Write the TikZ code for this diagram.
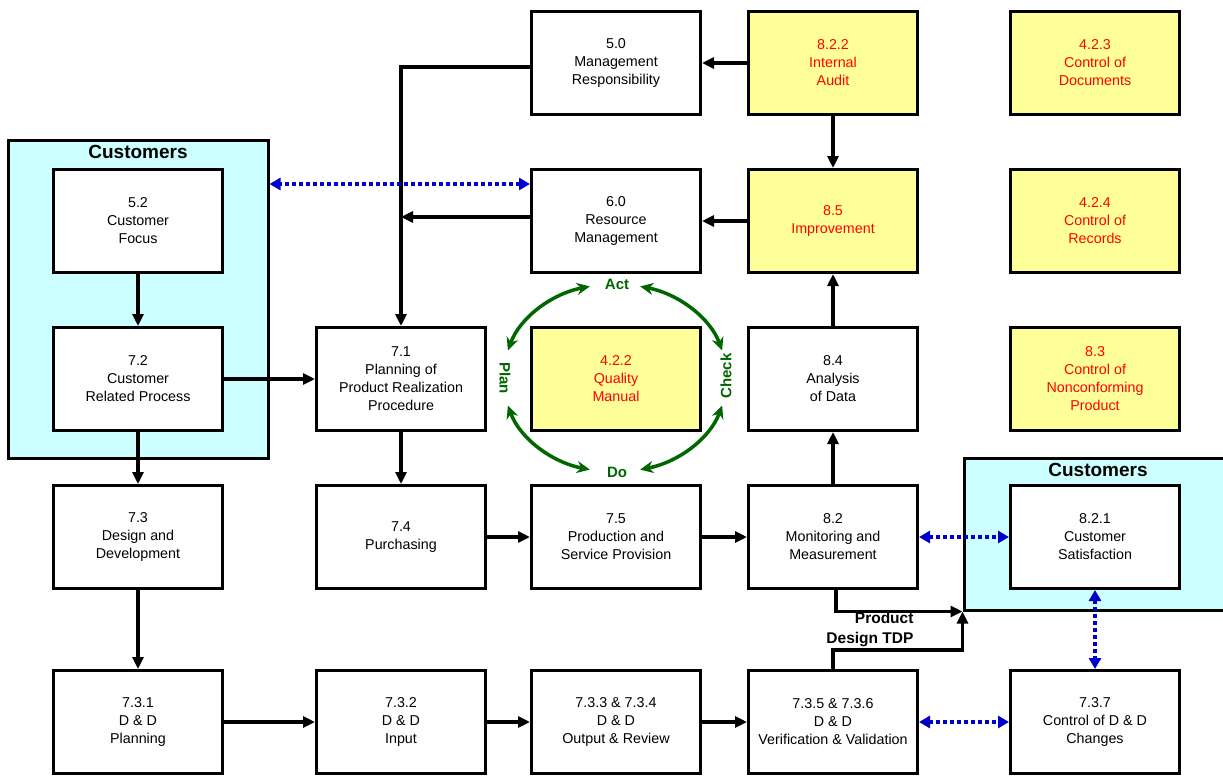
\documentclass[tikz,border=0pt]{standalone}
\usepackage{fontspec}
\setmainfont{Liberation Sans}
\definecolor{CustCyan}{RGB}{204,255,255}
\definecolor{NoteYellow}{RGB}{255,255,153}
\definecolor{NoteRed}{RGB}{255,0,0}
\definecolor{CycGreen}{RGB}{0,102,0}
\definecolor{LinkBlue}{RGB}{0,0,204}
\usetikzlibrary{arrows.meta, positioning, calc}
\newcommand{\boxfont}{\fontsize{14.3}{18}\selectfont}
\newcommand{\titlefont}{\fontsize{19}{22}\selectfont\bfseries}

\begin{document}
\begin{tikzpicture}[x=1pt,y=1pt,node distance=52pt and 45pt,
	box/.style={draw,line width=3pt,fill=white,minimum width=169pt,minimum height=103pt,align=center,font=\boxfont},
	qbox/.style={box,fill=NoteYellow,text=NoteRed},
	custbox/.style={draw,line width=3pt,fill=CustCyan,inner sep=0pt},
	custtitle/.style={font=\titlefont,anchor=north,inner sep=2pt,yshift=-5pt},
	flow/.style={line width=3.5pt,-{Triangle[length=12pt,width=11pt]}},
	link/.style={draw=LinkBlue,line width=3.5pt,dash pattern=on 4pt off 3pt,{Triangle[length=11pt,width=12pt]}-{Triangle[length=11pt,width=12pt]}},
	cyc/.style={draw=CycGreen,line width=3.5pt,{Stealth[length=13pt,width=12pt]}-{Stealth[length=13pt,width=12pt]}},
	phase/.style={text=CycGreen,font=\fontsize{15}{17}\selectfont\bfseries,inner sep=1pt}]
\useasboundingbox (0,0) rectangle (1223,-776);
% customer areas
\node[custbox,minimum width=260pt,minimum height=318pt] (custL) at (138,-299) {};
\node[custtitle] at (custL.north) {Customers};
\node[custbox,minimum width=268pt,minimum height=152pt] (custR) at (1098,-534) {};
\node[custtitle] at (custR.north) {Customers};
% top rows
\node[box] (mresp) at (616,-63) {5.0\\Management\\Responsibility};
\node[qbox,right=of mresp] (iaudit) {8.2.2\\Internal\\Audit};
\node[qbox,right=90pt of iaudit] (cdoc) {4.2.3\\Control of\\Documents};
\node[box,below=of mresp] (resm) {6.0\\Resource\\Management};
\node[qbox,right=of resm] (impr) {8.5\\Improvement};
\node[qbox,right=90pt of impr] (crec) {4.2.4\\Control of\\Records};
\node[box] (cfocus) at (138,-221) {5.2\\Customer\\Focus};
% middle row
\node[box,below=of cfocus] (crel) {7.2\\Customer\\Related Process};
\node[box,right=91pt of crel] (prealz) {7.1\\Planning of\\Product Realization\\Procedure};
\node[qbox,right=43pt of prealz] (qman) {4.2.2\\Quality\\Manual};
\node[box,right=of qman] (anal) {8.4\\Analysis\\of Data};
\node[qbox,right=90pt of anal] (ncp) {8.3\\Control of\\Nonconforming\\Product};
% realization row
\node[box,below=of crel] (design) {7.3\\Design and\\Development};
\node[box,below=of prealz] (purch) {7.4\\Purchasing};
\node[box,below=of qman] (prod) {7.5\\Production and\\Service Provision};
\node[box,below=of anal] (monit) {8.2\\Monitoring and\\Measurement};
\node[box,below=of ncp] (csat) {8.2.1\\Customer\\Satisfaction};
% design and development row
\node[box,below=79pt of design] (ddplan) {7.3.1\\D \& D\\Planning};
\node[box,below=79pt of purch] (ddin) {7.3.2\\D \& D\\Input};
\node[box,below=79pt of prod] (ddout) {7.3.3 \& 7.3.4\\D \& D\\Output \& Review};
\node[box,below=79pt of monit] (ddver) {7.3.5 \& 7.3.6\\D \& D\\Verification \& Validation};
\node[box,below=79pt of csat] (ddchg) {7.3.7\\Control of D \& D\\Changes};
% PDCA cycle
\coordinate (pdca) at (615,-378);
\node[phase] (pact) at (617,-284) {Act};
\node[phase] (pdo) at (617,-472) {Do};
\node[phase,rotate=-90] (pplan) at (505,-378) {Plan};
\node[phase,rotate=90] (pcheck) at (726,-376) {Check};
\draw[cyc] (pdca) ++(103:112pt and 94pt) arc[start angle=103,end angle=163,x radius=112pt,y radius=94pt];
\draw[cyc] (pdca) ++(197:112pt and 94pt) arc[start angle=197,end angle=257,x radius=112pt,y radius=94pt];
\draw[cyc] (pdca) ++(283:112pt and 94pt) arc[start angle=283,end angle=343,x radius=112pt,y radius=94pt];
\draw[cyc] (pdca) ++(17:112pt and 94pt) arc[start angle=17,end angle=77,x radius=112pt,y radius=94pt];
% connectors
\draw[flow] (iaudit) -- (mresp);
\draw[flow] (iaudit) -- (impr);
\draw[flow] (impr) -- (resm);
\draw[flow] ([yshift=-4pt]mresp.west) -| (prealz.north);
\draw[flow] ([yshift=4pt]resm.west) -- ([yshift=4pt]prealz.north |- resm.west);
\draw[link] ($(resm.west)+(0,37)$) -- ($(custL.east |- resm.west)+(0,37)$);
\draw[flow] (cfocus) -- (crel);
\draw[flow] (crel) -- (prealz);
\draw[flow] (crel) -- (design);
\draw[flow] (prealz) -- (purch);
\draw[flow] (purch) -- (prod);
\draw[flow] (prod) -- (monit);
\draw[flow] (monit) -- (anal);
\draw[flow] (anal) -- (impr);
\draw[link] (monit) -- (csat);
\draw[link] (csat) -- (ddchg);
\draw[link] (ddver) -- (ddchg);
\draw[flow] (design) -- (ddplan);
\draw[flow] (ddplan) -- (ddin);
\draw[flow] (ddin) -- (ddout);
\draw[flow] (ddout) -- (ddver);
\draw[flow] ([xshift=3pt]monit.south) |- (custR.south west);
\draw[flow] (ddver.north) -- ++(0,19) -| (custR.south west);
\node[font=\fontsize{15.5}{20}\selectfont\bfseries,align=right,anchor=east] (tdp) at (917,-630) {Product\\Design TDP};
\end{tikzpicture}
\end{document}
